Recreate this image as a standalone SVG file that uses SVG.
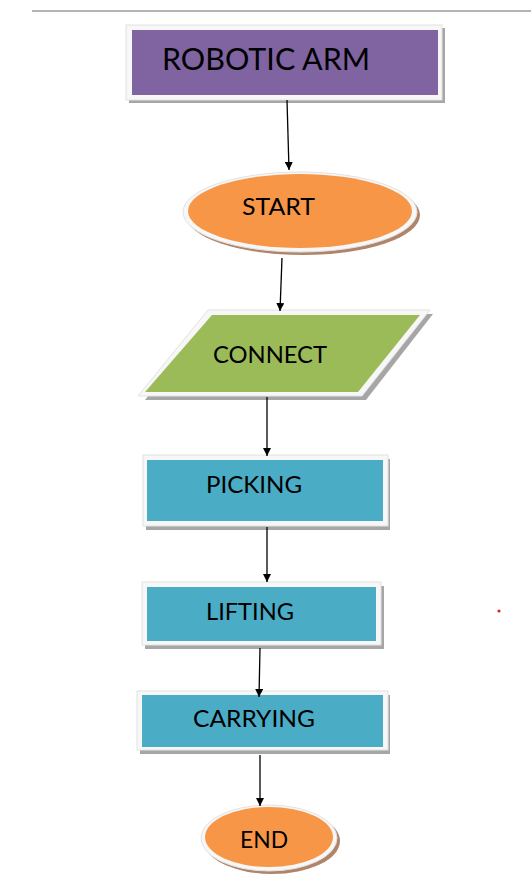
<svg xmlns="http://www.w3.org/2000/svg" width="531" height="887" viewBox="0 0 531 887">
<defs>
<style>
.lbl{font-family:Lato,"Liberation Sans",Arial,sans-serif;font-size:24px;fill:#000}
.title{font-size:30px}
.shd{fill:#A6A6A6}
.shdo{fill:#B08468}
.frame{fill:#F7F7F7;stroke:#E2E2E2;stroke-width:1}
.purple{fill:#8064A2}
.orange{fill:#F79646}
.green{fill:#9BBB59}
.blue{fill:#4BACC6}
.con{stroke:#000;stroke-width:1.3;fill:none;marker-end:url(#ah)}
</style>
<marker id="ah" viewBox="0 0 10 10" refX="10" refY="5" markerWidth="8" markerHeight="8" markerUnits="userSpaceOnUse" orient="auto">
<path d="M0,0 L10,5 L0,10 z" fill="#000"/>
</marker>
</defs>
<rect width="531" height="887" fill="#fff"/>
<line x1="32" y1="11" x2="531" y2="11" stroke="#6a6a6a" stroke-width="1"/>

<g id="robotic-arm">
<rect class="shd" x="129" y="28" width="316" height="75"/>
<rect class="frame" x="126" y="25" width="316" height="75"/>
<rect class="purple" x="132" y="30" width="306" height="65"/>
<text class="lbl title" x="162" y="70" textLength="208" lengthAdjust="spacingAndGlyphs">ROBOTIC ARM</text>
</g>

<g id="start">
<ellipse class="shdo" cx="303" cy="215" rx="117" ry="40"/>
<ellipse class="frame" cx="300" cy="212" rx="117" ry="40"/>
<ellipse class="orange" cx="300" cy="211" rx="112" ry="37"/>
<text class="lbl" x="242" y="215" textLength="73" lengthAdjust="spacingAndGlyphs">START</text>
</g>

<g id="connect">
<polygon class="shd" points="212,314 433,314 366,400 145,400"/>
<polygon class="frame" points="208,310 430,310 362,396 138,396"/>
<polygon class="green" points="212,315 420,315 358,392 145,392"/>
<text class="lbl" x="213" y="363" textLength="114" lengthAdjust="spacingAndGlyphs">CONNECT</text>
</g>

<g id="picking">
<rect class="shd" x="146" y="459" width="244" height="71"/>
<rect class="frame" x="143" y="455" width="245" height="71"/>
<rect class="blue" x="147" y="460" width="236" height="61"/>
<text class="lbl" x="206" y="493" textLength="96" lengthAdjust="spacingAndGlyphs">PICKING</text>
</g>

<g id="lifting">
<rect class="shd" x="145" y="586" width="239" height="63"/>
<rect class="frame" x="142" y="582" width="239" height="63"/>
<rect class="blue" x="147" y="587" width="229" height="54"/>
<text class="lbl" x="206" y="620" textLength="88" lengthAdjust="spacingAndGlyphs">LIFTING</text>
</g>

<g id="carrying">
<rect class="shd" x="140" y="695" width="250" height="59"/>
<rect class="frame" x="137" y="691" width="251" height="59"/>
<rect class="blue" x="142" y="695" width="241" height="52"/>
<text class="lbl" x="193" y="727" textLength="122" lengthAdjust="spacingAndGlyphs">CARRYING</text>
</g>

<g id="end">
<ellipse class="shdo" cx="272" cy="841" rx="68" ry="33"/>
<ellipse class="frame" cx="269" cy="838" rx="68" ry="33"/>
<ellipse class="orange" cx="269" cy="837" rx="64" ry="30"/>
<text class="lbl" x="240" y="848" textLength="48" lengthAdjust="spacingAndGlyphs">END</text>
</g>

<g id="connectors">
<line class="con" x1="287" y1="100" x2="289" y2="170"/>
<line class="con" x1="282" y1="258" x2="280" y2="311"/>
<line class="con" x1="267" y1="397" x2="267" y2="456"/>
<line class="con" x1="267" y1="527" x2="267" y2="582"/>
<line class="con" x1="260" y1="648" x2="259" y2="697"/>
<line class="con" x1="260" y1="755" x2="260" y2="806"/>
</g>

<circle cx="499" cy="611" r="1.6" fill="#e02020"/>
</svg>
